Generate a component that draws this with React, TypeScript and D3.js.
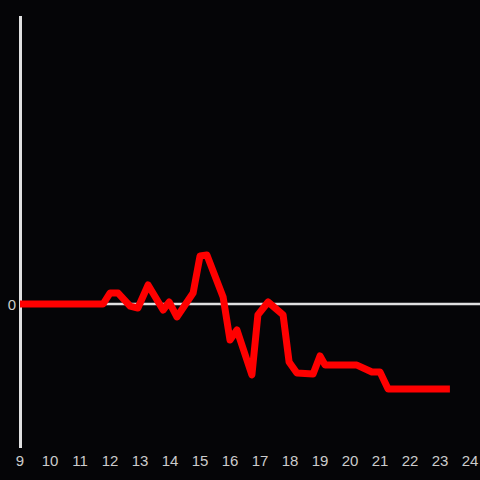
import React from "react";
import * as d3 from "d3";

const times = [9, 11.77, 12.0, 12.27, 12.67, 12.93, 13.27, 13.77, 13.97, 14.23, 14.77, 15.0, 15.23, 15.77, 16.0, 16.23, 16.73, 16.93, 17.27, 17.77, 17.97, 18.23, 18.77, 19.0, 19.17, 20.23, 20.73, 21.0, 21.27, 23.33];
const values = [0, 0, 0.76, 0.76, -0.14, -0.28, 1.32, -0.42, 0.14, -0.9, 0.76, 3.33, 3.4, 0.49, -2.5, -1.8, -4.93, -0.76, 0.14, -0.76, -4.03, -4.79, -4.86, -3.61, -4.24, -4.24, -4.72, -4.72, -5.9, -5.9];
const xTicks = [9, 10, 11, 12, 13, 14, 15, 16, 17, 18, 19, 20, 21, 22, 23, 24];
const yTicks = [0];

export default function App() {
  const W = 480, H = 480;
  const x = d3.scaleLinear().domain([9, 24]).range([20, 470]);
  const y = d3.scaleLinear().domain([-10, 20]).range([448, 16]);
  const pts = times.map((t, i) => [t, values[i]] as [number, number]);
  const line = d3.line<[number, number]>().x(d => x(d[0])).y(d => y(d[1]));
  return (
    <svg width={W} height={H} style={{ position: "absolute", left: 0, top: 0, background: "#050507" }}>
      <rect width={W} height={H} fill="#050507" />
      <line x1={20.5} x2={20.5} y1={16} y2={448} stroke="#e0e0e0" strokeWidth={3} />
      {yTicks.map(v => (
        <g key={v}>
          <line x1={20} x2={480} y1={y(v)} y2={y(v)} stroke="#e0e0e0" strokeWidth={2.5} />
          <text x={16} y={y(v) + 0.5} dy="0.35em" textAnchor="end" fill="#cccccc" fontSize={15} fontFamily="Liberation Sans, Arial, sans-serif">{v}</text>
        </g>
      ))}
      <path d={line(pts) || ""} fill="none" stroke="#ff0000" strokeWidth={7} strokeLinejoin="round" strokeLinecap="butt" />
      {xTicks.map(t => (
        <text key={t} x={x(t)} y={460.5} dy="0.35em" textAnchor="middle" fill="#cccccc" fontSize={15} fontFamily="Liberation Sans, Arial, sans-serif">{t}</text>
      ))}
    </svg>
  );
}
